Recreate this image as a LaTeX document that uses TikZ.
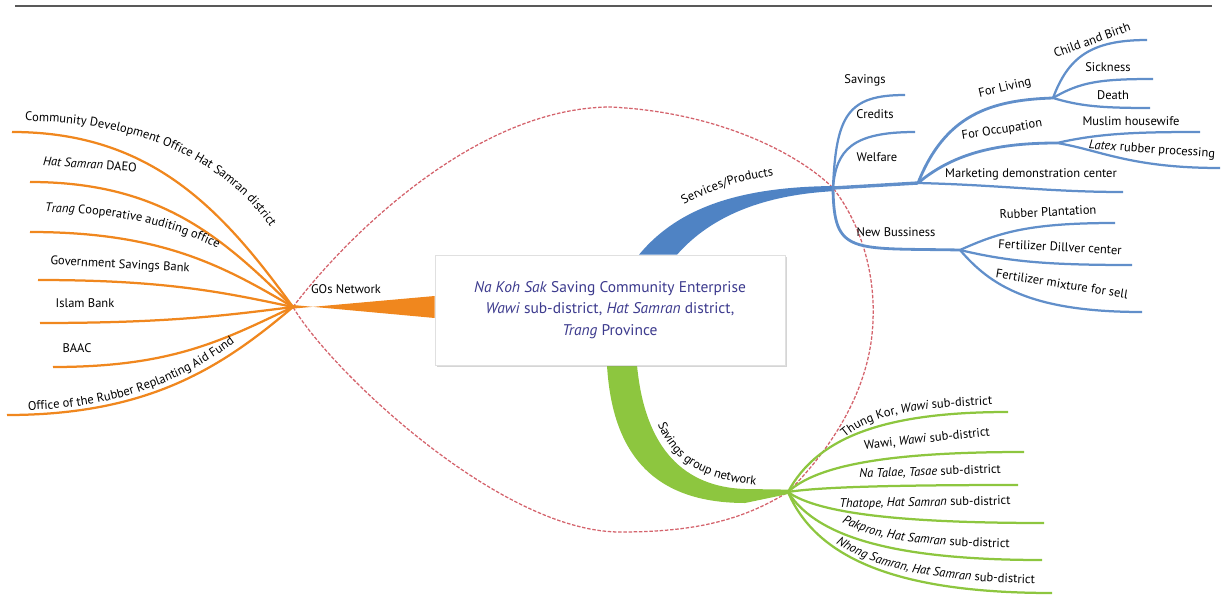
\documentclass[tikz,border=0pt]{standalone}
\usepackage{fontspec}
\setmainfont{PT Sans}
\usetikzlibrary{positioning, decorations.text, shadows}
\definecolor{orangeline}{HTML}{F0871E}
\definecolor{blueline}{HTML}{4F83C4}
\definecolor{greenline}{HTML}{8DC63F}
\definecolor{dashred}{HTML}{D4636C}
\definecolor{centertext}{HTML}{3D3B8E}
\newcommand{\lab}{\fontsize{8.9}{10}\selectfont}
\newcommand{\labit}{\fontsize{8.9}{10}\selectfont\itshape}

\begin{document}
\begin{tikzpicture}[x=0.25mm,y=-0.25mm,
    leaf/.style={font=\lab,inner sep=0pt},
    obranch/.style={draw=orangeline,line width=1.6pt},
    bbranch/.style={draw=blueline!90!white,line width=1.6pt},
    gbranch/.style={draw=greenline,line width=1.6pt},
    dashline/.style={draw=dashred,line width=0.9pt,dash pattern=on 2.5pt off 1.2pt},
    curvetext/.style={decorate,decoration={text along path,text align=left,text={#1}}},
    centerbox/.style={fill=white,draw=black!12,minimum width=87.5mm,minimum height=27.5mm,
        align=center,text=centertext,font=\fontsize{11}{15.5}\selectfont,
        drop shadow={shadow xshift=0.5mm,shadow yshift=-0.5mm,opacity=0.18}}]
\useasboundingbox (0,0) rectangle (1221,598);

% top rule
\draw[line width=0.5mm,black!65] (15,6) -- (1212,6);

\coordinate (hubO) at (293,307);
\coordinate (hubB) at (833,188);
\coordinate (hubG) at (788,492);

% dashed ring through the hubs
\draw[dashline] (hubO) .. controls (338,247) and (470,108) .. (610,107)
    .. controls (720,112) and (800,155) .. (hubB)
    .. controls (862,225) and (875,275) .. (873,320)
    .. controls (871,390) and (830,450) .. (hubG)
    .. controls (740,522) and (690,532) .. (620,532)
    .. controls (500,532) and (330,370) .. (hubO);

\node[centerbox] (ent) at (610,310) {};

% main bands
\fill[orangeline] ([yshift=-0.4mm]hubO) -- ([yshift=3.5mm]ent.west) -- ([yshift=-2mm]ent.west)
    -- ([yshift=0.5mm]hubO) -- cycle;
\fill[blueline] ([xshift=7.25mm]ent.north) .. controls (680,205) and (745,187) .. ([yshift=0.5mm]hubB)
    -- ([yshift=-0.8mm]hubB) .. controls (765,195) and (712,215) .. ([xshift=16.75mm]ent.north) -- cycle;
\fill[greenline] ([xshift=-0.75mm]ent.south) .. controls (612,450) and (650,503) .. (745,503)
    -- ([yshift=-0.5mm]hubG) -- ([yshift=0.6mm]hubG) -- (745,489)
    .. controls (685,487) and (645,450) .. ([xshift=6.75mm]ent.south) -- cycle;

% GOs network
\foreach \n/\ex/\ey in {1/12/132,2/30/182,3/30/232,4/38/280,5/40/323,6/53/367,7/7/415}{
  \coordinate (o\n) at (\ex,\ey);
  \draw[obranch] (hubO) .. controls (223,{307+0.55*(\ey-307)}) and ({(\ex+293)/2},\ey) .. (o\n);
}
\node[leaf] (gos) at (346,289) {GOs Network};
\path[curvetext={|\lab|Community Development Office Hat Samran district}]
    (25,121) .. controls (140,122) and (235,160) .. (285,250);
\node[leaf,rotate=-4] (daeo) at (90,164) {\textit{Hat Samran} DAEO};
\path[curvetext={|\labit|Trang |\lab|Cooperative auditing office}]
    (45,212) .. controls (110,213) and (170,222) .. (235,257);
\node[leaf,rotate=-3] (gsb) at (120,265) {Government Savings Bank};
\node[leaf] (islam) at (85,303) {Islam Bank};
\node[leaf] (baac) at (77,348) {BAAC};
\path[curvetext={|\lab|Office of the Rubber Replanting Aid Fund}]
    (28,410) .. controls (110,408) and (190,385) .. (262,320);

% Services/Products
\path[curvetext={|\lab|Services/Products}]
    (684,205) .. controls (720,185) and (760,174) .. (820,171);
\coordinate (hubV) at (918,183);
\coordinate (hubL) at (1053,98);
\coordinate (hubOc) at (1057,143);
\coordinate (hubNB) at (960,250);
\coordinate (sv) at (905,95);
\coordinate (cr) at (915,132);
\coordinate (mk) at (1123,192);
\coordinate (cb) at (1147,40);
\coordinate (sk) at (1153,79);
\coordinate (dt) at (1150,108);
\coordinate (mh) at (1200,132);
\coordinate (lx) at (1220,168);
\coordinate (rp) at (1115,223);
\coordinate (fd) at (1132,265);
\coordinate (fm) at (1142,312);
\draw[bbranch] (hubB) .. controls (836,115) and (848,95) .. (sv);
\draw[bbranch] (hubB) .. controls (836,150) and (852,132) .. (cr);
\draw[bbranch,line width=2.4pt] (hubB) -- (hubV);
\draw[bbranch] (hubV) .. controls (1000,185) and (1050,192) .. (mk);
\draw[bbranch,line width=2pt] (hubV) .. controls (945,115) and (990,100) .. (hubL);
\draw[bbranch,line width=2pt] (hubV) .. controls (955,152) and (1000,143) .. (hubOc);
\draw[bbranch] (hubL) .. controls (1068,58) and (1090,40) .. (cb);
\draw[bbranch] (hubL) .. controls (1080,82) and (1100,79) .. (sk);
\draw[bbranch] (hubL) .. controls (1080,106) and (1100,108) .. (dt);
\draw[bbranch] (hubOc) .. controls (1100,133) and (1140,132) .. (mh);
\draw[bbranch] (hubOc) .. controls (1100,150) and (1130,168) .. (lx);
\draw[bbranch,line width=2pt] (hubB) .. controls (834,255) and (850,248) .. (hubNB);
\draw[bbranch] (hubNB) .. controls (1000,232) and (1030,223) .. (rp);
\draw[bbranch] (hubNB) .. controls (1010,262) and (1050,265) .. (fd);
\draw[bbranch] (hubNB) .. controls (990,285) and (1030,312) .. (fm);
\node[leaf] (savings) at (865,80) {Savings};
\node[leaf] (credits) at (875,114) {Credits};
\node[leaf] (welfare) at (877,157) {Welfare};
\node[leaf,rotate=13] (living) at (1005,88) {For Living};
\node[leaf,rotate=9] (occup) at (1002,130) {For Occupation};
\node[leaf,rotate=20] (child) at (1092,40) {Child and Birth};
\node[leaf] (sick) at (1108,67) {Sickness};
\node[leaf] (death) at (1113,95) {Death};
\node[leaf] (muslim) at (1131,121) {Muslim housewife};
\node[leaf,rotate=-4] (latex) at (1152,150) {\textit{Latex} rubber processing};
\node[leaf] (market) at (1031,174) {Marketing demonstration center};
\node[leaf] (newbus) at (896,232) {New Bussiness};
\node[leaf,rotate=3] (rubber) at (1048,212) {Rubber Plantation};
\node[leaf,rotate=-3] (dillver) at (1060,247) {Fertilizer Dillver center};
\node[leaf,rotate=-9] (mixture) at (1062,284) {Fertilizer mixture for sell};

% Savings group network
\foreach \n/\ex/\ey in {1/1008/412,2/1024/452,3/1018/485,4/1044/523,5/1042/560,6/1052/593}{
  \coordinate (g\n) at (\ex,\ey);
  \draw[gbranch] (hubG) .. controls (818,{492+0.7*(\ey-492)}) and ({788+0.45*(\ex-788)},\ey) .. (g\n);
}
\path[curvetext={|\lab|Savings group network}]
    (658,424) .. controls (672,462) and (705,485) .. (785,487);
\path[curvetext={|\lab|Thung Kor, |\labit|Wawi |\lab|sub-district}]
    (845,438) .. controls (872,414) and (920,407) .. (1010,404);
\node[leaf,rotate=6] (wawi) at (927,439) {Wawi, \textit{Wawi} sub-district};
\node[leaf,rotate=2] (natalae) at (930,472) {\textit{Na Talae, Tasae} sub-district};
\node[leaf,rotate=1] (thatope) at (925,503) {\textit{Thatope, Hat Samran} sub-district};
\path[curvetext={|\labit|Pakpron, Hat Samran |\lab|sub-district}]
    (842,522) .. controls (870,538) and (910,547) .. (1035,548);
\path[curvetext={|\labit|Nhong Samran, Hat Samran |\lab|sub-district}]
    (836,543) .. controls (870,565) and (920,583) .. (1060,584);

% centre box on top
\node[centerbox] (enttext) at (ent) {\textit{Na Koh Sak} Saving Community Enterprise\\
    \textit{Wawi} sub-district, \textit{Hat Samran} district,\\ \textit{Trang} Province};
\end{tikzpicture}
\end{document}
